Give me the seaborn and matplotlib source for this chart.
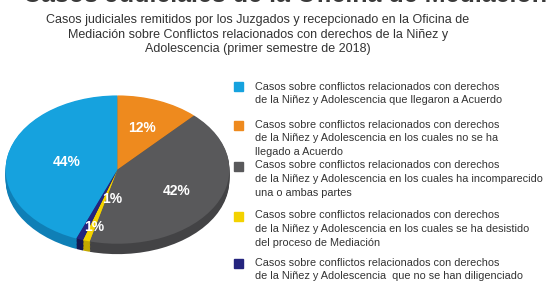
import matplotlib.pyplot as plt
import seaborn as sns
import numpy as np
from matplotlib.patches import Rectangle

sns.set_style("white")
plt.rcParams['font.family'] = ['Liberation Sans', 'DejaVu Sans']

# datos del grafico
categorias = ["acuerdo", "sin acuerdo", "incomparecido", "desistido", "no diligenciado"]
porcentajes = [44, 12, 42, 1, 1]
colores = ["#16a2de", "#ee8a1e", "#59595b", "#f3d200", "#24247e"]
colores_lado = ["#0f7fb6", "#c06f14", "#434345", "#c4a800", "#16164f"]
leyenda = [
    "Casos sobre conflictos relacionados con derechos\nde la Niñez y Adolescencia que llegaron a Acuerdo",
    "Casos sobre conflictos relacionados con derechos\nde la Niñez y Adolescencia en los cuales no se ha\nllegado a Acuerdo",
    "Casos sobre conflictos relacionados con derechos\nde la Niñez y Adolescencia en los cuales ha incomparecido\nuna o ambas partes",
    "Casos sobre conflictos relacionados con derechos\nde la Niñez y Adolescencia en los cuales se ha desistido\ndel proceso de Mediación",
    "Casos sobre conflictos relacionados con derechos\nde la Niñez y Adolescencia  que no se han diligenciado",
]
titulo = ("Casos judiciales remitidos por los Juzgados y recepcionado en la Oficina de\n"
          "Mediación sobre Conflictos relacionados con derechos de la Niñez y\n"
          "Adolescencia (primer semestre de 2018)")

W, H = 554, 287
fig = plt.figure(figsize=(W / 100, H / 100), dpi=100)

# ejes del pastel (elipse)
ax = fig.add_axes([0 / W, 21 / H, 235 / W, 178 / H])
inicio = 90 + porcentajes[0] / 100 * 360
prof = 0.14
for k in np.linspace(prof, 0.01, 8):
    ax.pie(porcentajes, colors=colores_lado, startangle=inicio, counterclock=False,
           center=(0, -k), wedgeprops=dict(linewidth=0))
wedges, _, autot = ax.pie(porcentajes, colors=colores, startangle=inicio, counterclock=False,
                          autopct='%d%%', pctdistance=0.6,
                          wedgeprops=dict(linewidth=0),
                          textprops=dict(color="white", fontsize=10, fontweight="bold"))
autot[0].set_position((-0.45, 0.1))
autot[3].set_position((-0.05, -0.39))
autot[4].set_position((-0.21, -0.77))
ax.set_aspect('auto')
ax.set_xlim(-1.05, 1.05)
ax.set_ylim(-1.3, 1.1)
ax.axis('off')

# titulo cortado arriba y subtitulo
fig.text(285 / W, 1 - 2 / H, "Casos Judiciales de la Oficina de Mediación", ha="center",
         va="baseline", fontsize=18, fontweight="bold", color="#3a3a3a")
fig.text(258 / W, 1 - 14 / H, titulo, ha="center", va="top", fontsize=9.0,
         color="#333333", linespacing=1.3)

# leyenda manual
ys = [87, 125, 166, 216, 263]
for y, txt, c in zip(ys, leyenda, colores):
    fig.add_artist(Rectangle((234 / W, 1 - (y + 4.5) / H), 9 / W, 9 / H, color=c,
                             transform=fig.transFigure))
    fig.text(255 / W, 1 - (y - 5.5) / H, txt, ha="left", va="top", fontsize=7.8,
             color="#333333", linespacing=1.45)

plt.savefig("out.png", dpi=100)
